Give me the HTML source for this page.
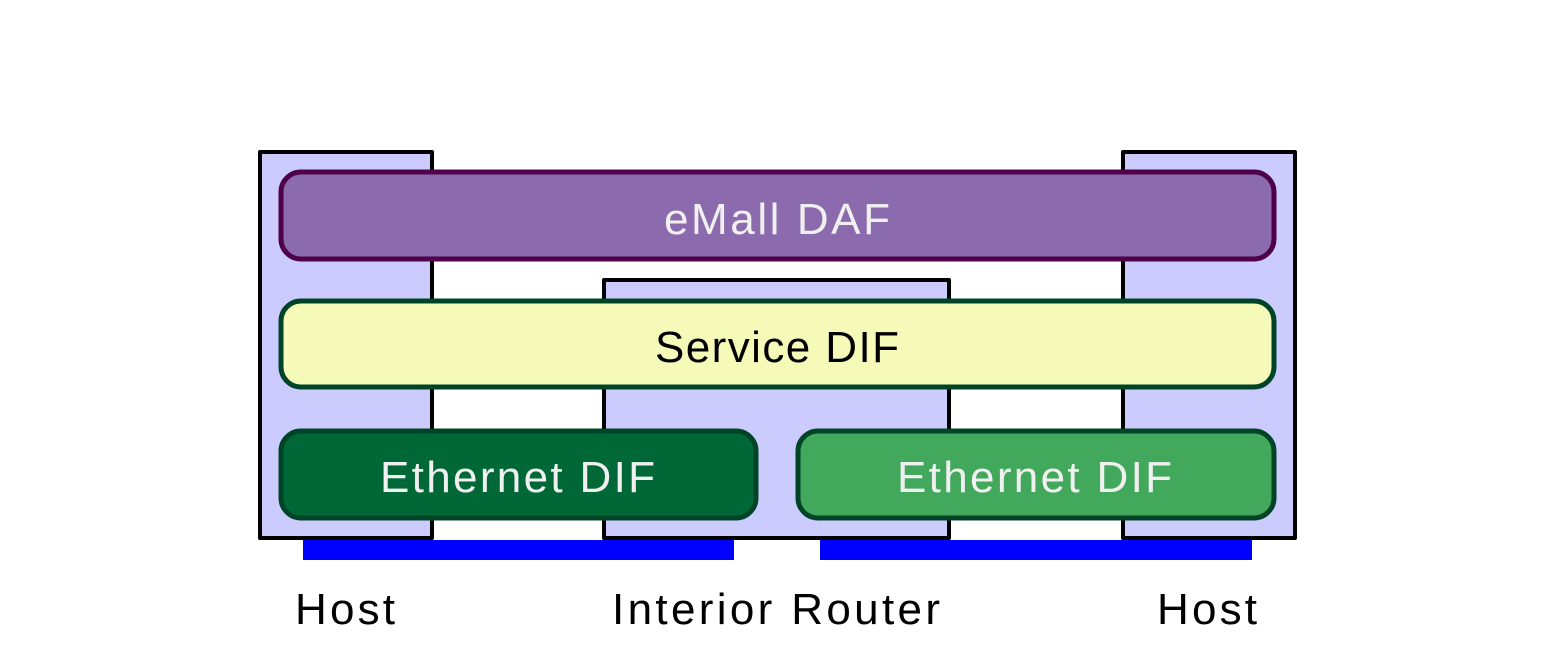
<!DOCTYPE html>
<html><head><style>body{margin:0;background:#fff}</style></head><body>
<svg width="1563" height="655" xmlns="http://www.w3.org/2000/svg" font-family="'Liberation Sans', 'DejaVu Sans', sans-serif">
<rect width="1563" height="655" fill="#fff"/>
<g fill="#cbcbfd" stroke="#000" stroke-width="4" stroke-linejoin="round">
<rect x="260" y="152" width="172" height="386"/>
<rect x="1123" y="152" width="172" height="386"/>
<rect x="604" y="280" width="345" height="258"/>
</g>
<rect x="303" y="540" width="431" height="20" fill="#0000ff"/>
<rect x="820" y="540" width="432" height="20" fill="#0000ff"/>
<rect x="281" y="172" width="993" height="87" rx="20" fill="#8b6bae" stroke="#4f004a" stroke-width="5"/>
<rect x="281" y="301" width="993" height="86" rx="20" fill="#f5fab8" stroke="#004428" stroke-width="5"/>
<rect x="281" y="431" width="475" height="87" rx="20" fill="#006837" stroke="#004428" stroke-width="5"/>
<rect x="798" y="431" width="476" height="87" rx="20" fill="#41a85c" stroke="#004428" stroke-width="5"/>
<g font-size="44" lengthAdjust="spacing">
<text x="664" y="234" fill="#f0f0f0" textLength="226">eMall DAF</text>
<text x="655" y="362" fill="#000" textLength="244">Service DIF</text>
<text x="380" y="492" fill="#f0f0f0" textLength="275">Ethernet DIF</text>
<text x="897" y="492" fill="#f0f0f0" textLength="275">Ethernet DIF</text>
<text x="295" y="624" fill="#000" textLength="100">Host</text>
<text x="612" y="624" fill="#000" textLength="328">Interior Router</text>
<text x="1157" y="624" fill="#000" textLength="100">Host</text>
</g>
</svg>
</body></html>
